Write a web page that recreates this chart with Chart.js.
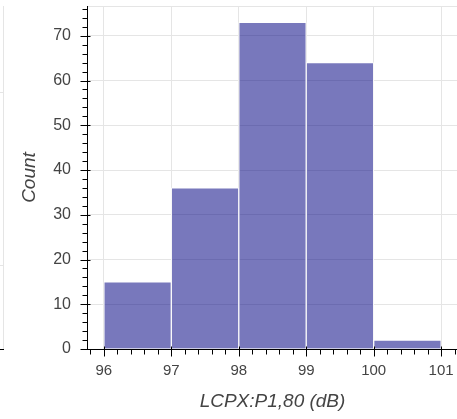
<!DOCTYPE html>
<html>
<head>
<meta charset="utf-8">
<script src="https://cdn.jsdelivr.net/npm/chart.js@4.4.1/dist/chart.umd.min.js"></script>
<style>
    html, body { margin: 0; padding: 0; background: #fff; overflow: hidden; }
    #wrap { position: absolute; left: 0; top: 0; width: 460px; height: 419px; }
    /* edge of the neighbouring panel */
    .frag-v { position: absolute; left: 3px; top: 6px; width: 1px; height: 343px; background: #e5e5e5; }
    .frag-h { position: absolute; left: 0; width: 3px; height: 1px; background: #e5e5e5; }
    .frag-t { position: absolute; left: 0; top: 349px; width: 4px; height: 1px; background: #000; }
</style>
</head>
<body>
<div class="frag-v"></div>
<div class="frag-h" style="top:92px"></div>
<div class="frag-h" style="top:265px"></div>
<div class="frag-t"></div>
<div id="wrap"><canvas id="hist" width="460" height="419"></canvas></div>
<script>
// 히스토그램 데이터
const binEdges = [96, 97, 98, 99, 100, 101];
const binCounts = [15, 36, 73, 64, 2];
const xTickLabels = ['96', '97', '98', '99', '100', '101'];
const yTickLabels = ['0', '10', '20', '30', '40', '50', '60', '70'];

const xTitle = 'LCPX:P1,80 (dB)';
const yTitle = 'Count';

const GRID = '#e5e5e5';
const TEXT = '#444444';
const FONT = "'Liberation Sans', Arial, Helvetica, sans-serif";

function isWhole(v) {
    return Math.abs(v - Math.round(v)) < 1e-6;
}

// 축선 + major/minor 눈금 (보케 스타일)
const axisTicks = {
    id: 'axisTicks',
    beforeDatasetsDraw(chart) {
        const { ctx, chartArea: a } = chart;
        ctx.save();
        ctx.strokeStyle = GRID;
        ctx.lineWidth = 1;
        ctx.beginPath();
        ctx.moveTo(a.left, a.top + 0.5);
        ctx.lineTo(a.right, a.top + 0.5);
        ctx.moveTo(a.right - 0.5, a.top);
        ctx.lineTo(a.right - 0.5, a.bottom);
        ctx.stroke();
        ctx.restore();
    },
    afterDatasetsDraw(chart) {
        const { ctx, chartArea: a, scales: { x, y } } = chart;
        const left = Math.round(a.left) + 0.5;
        const bottom = Math.round(a.bottom) + 0.5;
        ctx.save();
        ctx.strokeStyle = '#000';
        ctx.lineWidth = 1;
        ctx.beginPath();
        ctx.moveTo(left, a.top);
        ctx.lineTo(left, bottom);
        ctx.moveTo(left, bottom);
        ctx.lineTo(a.right, bottom);

        // y: 2 단위 눈금, 10 단위가 major
        y.ticks.forEach(t => {
            const py = Math.round(y.getPixelForValue(t.value)) + 0.5;
            const major = isWhole(t.value / 10);
            ctx.moveTo(left - (major ? 7 : 5), py);
            ctx.lineTo(left + (major ? 3 : 0), py);
        });

        // x: major 는 정수, minor 는 0.2 간격
        const xMajor = x.ticks.map(t => t.value);
        const xMinor = [];
        [xMajor[0] - 1].concat(xMajor).forEach(v => {
            for (let k = 1; k < 5; k++) {
                const m = v + k * 0.2;
                if (m >= x.min && m <= x.max) xMinor.push(m);
            }
        });
        xMajor.forEach(v => {
            const px = Math.round(x.getPixelForValue(v)) + 0.5;
            ctx.moveTo(px, bottom - 3);
            ctx.lineTo(px, bottom + 7);
        });
        xMinor.forEach(v => {
            const px = Math.round(x.getPixelForValue(v)) + 0.5;
            ctx.moveTo(px, bottom);
            ctx.lineTo(px, bottom + 5);
        });
        ctx.stroke();
        ctx.restore();
    }
};

const points = binCounts.map((c, i) => ({ x: (binEdges[i] + binEdges[i + 1]) / 2, y: c }));

new Chart(document.getElementById('hist').getContext('2d'), {
    type: 'bar',
    data: {
        datasets: [{
            data: points,
            backgroundColor: 'rgba(0, 0, 128, 0.53)',
            borderColor: 'rgba(255, 255, 255, 0.75)',
            borderWidth: 1,
            borderSkipped: 'start',
            barPercentage: 1,
            categoryPercentage: 1
        }]
    },
    options: {
        responsive: false,
        animation: false,
        devicePixelRatio: 1,
        layout: {
            padding: { left: 0, top: 6, right: 2, bottom: 0 }
        },
        plugins: {
            legend: { display: false },
            tooltip: { enabled: false }
        },
        scales: {
            x: {
                type: 'linear',
                min: 95.75,
                max: 101.25,
                offset: false,
                afterFit(scale) {
                    scale.height = 70;
                    scale.paddingLeft = 0;
                    scale.paddingRight = 0;
                },
                border: { display: false },
                grid: {
                    offset: false,
                    drawTicks: false,
                    color: GRID
                },
                ticks: {
                    stepSize: 1,
                    includeBounds: false,
                    autoSkip: false,
                    maxRotation: 0,
                    padding: 13,
                    color: TEXT,
                    font: { family: FONT, size: 15 },
                    callback: v => {
                        const i = binEdges.indexOf(Math.round(v));
                        return i >= 0 ? xTickLabels[i] : '';
                    }
                },
                title: {
                    display: true,
                    text: xTitle,
                    color: TEXT,
                    padding: { top: 0, bottom: 6 },
                    font: { family: FONT, size: 19, style: 'italic' }
                }
            },
            y: {
                min: 0,
                max: 76.65,
                afterFit(scale) {
                    scale.width = 87;
                    scale.paddingTop = 0;
                    scale.paddingBottom = 0;
                },
                border: { display: false },
                grid: {
                    drawTicks: false,
                    color: c => isWhole(c.tick.value / 10) ? GRID : 'rgba(0,0,0,0)'
                },
                ticks: {
                    stepSize: 2,
                    includeBounds: false,
                    autoSkip: false,
                    padding: 16,
                    color: TEXT,
                    font: { family: FONT, size: 16 },
                    callback: v => {
                        if (!isWhole(v / 10)) return '';
                        const i = Math.round(v / 10);
                        return yTickLabels[i] !== undefined ? yTickLabels[i] : '';
                    }
                },
                title: {
                    display: true,
                    text: yTitle,
                    color: TEXT,
                    padding: { top: 18, bottom: 0 },
                    font: { family: FONT, size: 19, style: 'italic' }
                }
            }
        }
    },
    plugins: [axisTicks]
});
</script>
</body>
</html>
